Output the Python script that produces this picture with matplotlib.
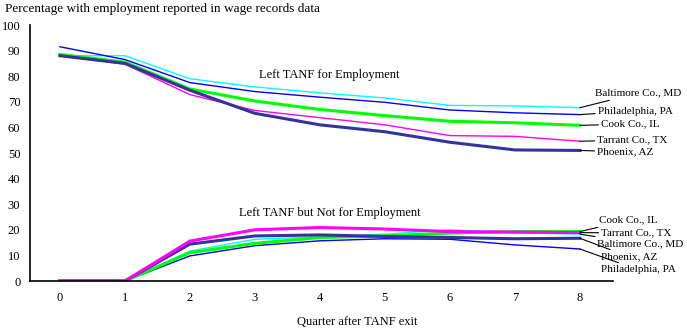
import matplotlib
matplotlib.use('Agg')
import matplotlib.pyplot as plt

plt.rcParams['font.family'] = 'Liberation Serif'
plt.rcParams['font.size'] = 9

quarters = [0, 1, 2, 3, 4, 5, 6, 7, 8]

# Left TANF for employment
emp_phoenix = [88.0, 85.0, 74.5, 65.5, 61.0, 58.3, 54.2, 51.2, 51.0]
emp_philadelphia = [91.5, 86.5, 77.5, 74.0, 71.8, 69.8, 66.8, 65.7, 65.0]
emp_baltimore = [88.0, 88.0, 79.0, 75.8, 73.5, 71.5, 68.6, 68.4, 67.7]
emp_cook = [88.5, 85.5, 75.0, 70.3, 67.0, 64.6, 62.4, 61.8, 60.8]
emp_tarrant = [88.0, 84.7, 72.8, 66.6, 63.8, 61.0, 56.8, 56.5, 54.6]

# Left TANF but not for employment
oth_phoenix = [0, 0, 14.4, 17.6, 18.0, 17.4, 17.0, 16.5, 16.7]
oth_philadelphia = [0, 0, 9.8, 13.8, 15.7, 16.5, 16.3, 14.1, 12.5]
oth_baltimore = [0, 0, 11.7, 16.3, 17.3, 18.3, 20.0, 18.8, 18.3]
oth_cook = [0, 0, 11.1, 14.7, 17.0, 17.6, 18.7, 19.3, 19.3]
oth_tarrant = [0, 0, 15.6, 20.0, 20.9, 20.3, 19.3, 19.1, 18.9]

navy = '#333399'
blue = '#0000FF'
cyan = '#00FFFF'
green = '#00FF00'
magenta = '#FF00FF'

fig = plt.figure(figsize=(6.87, 3.33), dpi=100)
ax = fig.add_axes([30/687, 52/333, 583/687, 256/333])

ax.plot(quarters, emp_baltimore, color=cyan, lw=1.0)
ax.plot(quarters, emp_philadelphia, color=blue, lw=1.0)
ax.plot(quarters, emp_tarrant, color=magenta, lw=1.0)
ax.plot(quarters, emp_cook, color=green, lw=2.2)
ax.plot(quarters, emp_phoenix, color=navy, lw=2.2)

ax.plot(quarters, oth_philadelphia, color=blue, lw=1.0)
ax.plot(quarters, oth_baltimore, color=cyan, lw=1.0)
ax.plot(quarters, oth_cook, color=green, lw=2.2)
ax.plot(quarters, oth_phoenix, color=navy, lw=2.2)
ax.plot(quarters, oth_tarrant, color=magenta, lw=2.2)

ax.set_xlim(-0.46, 8.51)
ax.set_ylim(0, 100)
ax.set_xticks(quarters)
ax.set_yticks(range(0, 101, 10))
ax.tick_params(axis='x', length=0, pad=8)
ax.tick_params(axis='y', length=0, pad=7)
for s in ['top', 'right']:
    ax.spines[s].set_visible(False)
ax.spines['left'].set_linewidth(1.2)
ax.spines['bottom'].set_linewidth(1.2)

# labels at the line ends with leader lines
emp_labels = [('Baltimore Co., MD', emp_baltimore, 73.4, 8.24),
              ('Philadelphia, PA', emp_philadelphia, 66.4, 8.28),
              ('Cook Co., IL', emp_cook, 61.3, 8.33),
              ('Tarrant Co., TX', emp_tarrant, 55.0, 8.27),
              ('Phoenix, AZ', emp_phoenix, 50.4, 8.27)]
oth_labels = [('Cook Co., IL', oth_cook, 23.8, 8.3),
              ('Tarrant Co., TX', oth_tarrant, 18.8, 8.33),
              ('Baltimore Co., MD', oth_baltimore, 14.5, 8.27),
              ('Phoenix, AZ', oth_phoenix, 9.4, 8.33),
              ('Philadelphia, PA', oth_philadelphia, 4.3, 8.33)]
for name, vals, ty, tx in emp_labels + oth_labels:
    ax.annotate(name, xy=(8, vals[-1]), xytext=(tx, ty), va='center', ha='left',
                fontsize=8, annotation_clip=False,
                arrowprops=dict(arrowstyle='-', color='black', lw=0.8,
                                shrinkA=0, shrinkB=0))

ax.text(4.15, 80.5, 'Left TANF for Employment', ha='center', va='center')
ax.text(4.15, 26.5, 'Left TANF but Not for Employment', ha='center', va='center')

fig.text(5/687, 1 - 9/333, 'Percentage with employment reported in wage records data',
         ha='left', va='center', fontsize=9.5)
fig.text(357/687, 1 - 322/333, 'Quarter after TANF exit', ha='center', va='center')

plt.savefig('out.png', dpi=100)
